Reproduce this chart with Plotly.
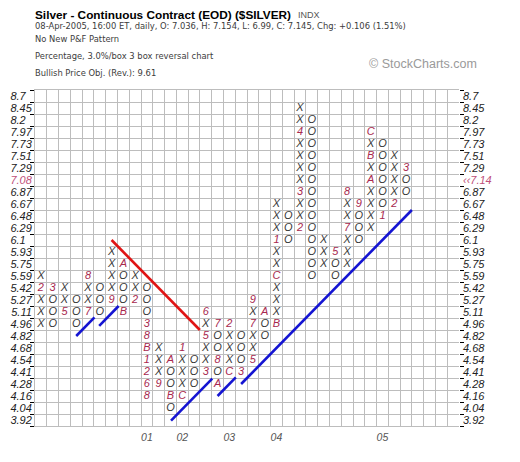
import plotly.graph_objects as go

# ---- data ----
prices = [3.92, 4.04, 4.16, 4.28, 4.41, 4.54, 4.68, 4.82, 4.96, 5.11, 5.27, 5.42,
          5.59, 5.75, 5.93, 6.1, 6.29, 6.48, 6.67, 6.87, 7.08, 7.29, 7.51, 7.73,
          7.97, 8.2, 8.45, 8.7]
price_labels = ["3.92", "4.04", "4.16", "4.28", "4.41", "4.54", "4.68", "4.82", "4.96",
                "5.11", "5.27", "5.42", "5.59", "5.75", "5.93", "6.1", "6.29", "6.48",
                "6.67", "6.87", "7.08", "7.29", "7.51", "7.73", "7.97", "8.2", "8.45", "8.7"]
last_price_label = "‹‹7.14"
last_price_level = 7.08

col_type = ["X", "O", "X", "O", "X", "O", "X", "O", "X", "O", "X", "O", "X", "O", "X", "O",
            "X", "O", "X", "O", "X", "O", "X", "O", "X", "O", "X", "O", "X", "O", "X", "O"]
col_low = [4.96, 4.96, 5.11, 4.96, 5.11, 5.11, 5.27, 5.11, 5.27, 4.16, 4.28, 4.04, 4.16, 4.28,
           4.41, 4.28, 4.41, 4.41, 4.54, 4.82, 4.96, 6.1, 6.29, 5.59, 5.75, 5.59, 5.75, 6.1,
           6.29, 6.48, 6.67, 6.87]
col_high = [5.59, 5.42, 5.42, 5.27, 5.59, 5.42, 5.93, 5.75, 5.59, 5.42, 4.68, 4.54, 4.68, 4.54,
            5.11, 4.96, 4.96, 4.82, 5.27, 5.11, 6.67, 6.48, 8.45, 8.2, 6.1, 5.93, 6.87, 6.67,
            7.97, 7.73, 7.51, 7.29]
# month markers: (column, price, label)
month_marks = [
    (0, 5.42, "2"), (1, 5.42, "3"), (2, 5.11, "5"), (4, 5.11, "7"), (4, 5.59, "8"),
    (6, 5.27, "9"), (7, 5.75, "A"), (7, 5.11, "B"), (8, 5.27, "2"),
    (9, 4.96, "3"), (9, 4.82, "8"), (9, 4.68, "B"), (9, 4.54, "1"), (9, 4.41, "2"),
    (9, 4.28, "6"), (9, 4.16, "8"), (10, 4.28, "9"), (11, 4.54, "A"), (11, 4.16, "B"),
    (12, 4.16, "C"), (12, 4.68, "1"), (14, 4.41, "3"), (14, 4.82, "5"), (14, 5.11, "6"),
    (15, 4.96, "7"), (15, 4.54, "8"), (15, 4.28, "A"), (16, 4.41, "C"), (16, 4.96, "2"),
    (17, 4.41, "3"), (18, 4.54, "5"), (18, 4.96, "7"), (18, 5.27, "9"), (19, 5.11, "A"),
    (20, 4.96, "B"), (20, 5.59, "C"), (20, 6.1, "1"), (22, 6.29, "2"), (22, 6.87, "3"),
    (22, 7.97, "4"), (25, 5.93, "5"), (26, 6.29, "7"), (26, 6.87, "8"), (27, 6.67, "9"),
    (28, 7.08, "A"), (28, 7.51, "B"), (28, 7.97, "C"), (29, 6.48, "1"), (30, 6.67, "2"),
    (31, 7.29, "3"),
]
year_cols = [9, 12, 16, 20, 29]
year_labels = ["01", "02", "03", "04", "05"]
n_columns = 36

# trend lines in (column, box index) units
red_lines = [((6, 15), (13.5, 7.5))]
blue_lines = [((3, 7), (4.55, 8.55)), ((4.95, 7.85), (6.6, 9.5)),
              ((11.05, -0.05), (14.55, 3.45)), ((15.0, 2.0), (16.55, 3.55)),
              ((17.0, 3.0), (31.5, 17.5))]

# ---- build cells ----
idx = {p: i for i, p in enumerate(prices)}
marks = {(c, idx[p]): t for c, p, t in month_marks}
xo_x, xo_y, xo_t = [], [], []
mk_x, mk_y, mk_t = [], [], []
for c, (t, lo, hi) in enumerate(zip(col_type, col_low, col_high)):
    for r in range(idx[lo], idx[hi] + 1):
        if (c, r) in marks:
            mk_x.append(c); mk_y.append(r); mk_t.append(marks[(c, r)])
        else:
            xo_x.append(c); xo_y.append(r); xo_t.append(t)

fig = go.Figure()
fig.add_trace(go.Scatter(x=xo_x, y=xo_y, text=xo_t, mode="text", hoverinfo="skip",
                         textfont=dict(family="Liberation Sans", size=11, color="#383838",
                                       style="italic")))
fig.add_trace(go.Scatter(x=mk_x, y=mk_y, text=mk_t, mode="text", hoverinfo="skip",
                         textfont=dict(family="Liberation Sans", size=11, color="#a8284e",
                                       style="italic")))
for lines, color in ((red_lines, "#e01414"), (blue_lines, "#1414d2")):
    for (x0, y0), (x1, y1) in lines:
        fig.add_trace(go.Scatter(x=[x0, x1], y=[y0, y1], mode="lines", yaxis="y2",
                                 line=dict(color=color, width=2.6), hoverinfo="skip"))

left_text = []
right_text = []
for p, lab in zip(prices, price_labels):
    pad = "\u00a0\u00a0" if len(lab) < 4 else ""   # keep left labels left-aligned
    if p == last_price_level:
        left_text.append("<span style='color:#c0507a'>" + lab + pad + "</span>")
        right_text.append("<span style='color:#c0507a'>" + last_price_label + "</span>")
    else:
        left_text.append(lab + pad)
        right_text.append(lab)

grid = "#bdbdbd"
tickfont = dict(family="Liberation Sans", size=11, color="#222222", style="italic")
yrange = [-0.5, len(prices) - 0.5]
common_y = dict(range=yrange, showgrid=False, zeroline=False, tickmode="array",
                tickvals=list(range(len(prices))), ticks="", tickfont=tickfont,
                automargin=False, fixedrange=True,
                minor=dict(tickmode="linear", tick0=0.5, dtick=1, ticks="outside",
                           ticklen=4, tickwidth=1.3, tickcolor="#000000",
                           showgrid=True, gridcolor=grid, gridwidth=1))

# the page body adds an 8px margin; the figure is sized/offset to compensate
fig.update_layout(
    width=512, height=454,
    margin=dict(l=27, r=61, t=82, b=36),
    paper_bgcolor="white", plot_bgcolor="white",
    showlegend=False,
    font=dict(family="Liberation Sans"),
    xaxis=dict(range=[-0.5, n_columns - 0.5], showgrid=False, zeroline=False,
               tickmode="array", tickvals=year_cols, ticktext=year_labels, ticks="",
               tickfont=dict(family="Liberation Sans", size=10.5, color="#555555",
                             style="italic"), ticklabelstandoff=1,
               showline=True, linecolor=grid, mirror=True, automargin=False,
               minor=dict(tickmode="linear", tick0=-0.5, dtick=1, showgrid=True,
                          gridcolor=grid, gridwidth=1, ticks="")),
    yaxis=dict(ticktext=left_text, side="left", ticklabelstandoff=0,
               showline=True, linecolor=grid, **common_y),
    yaxis2=dict(ticktext=right_text, side="right", overlaying="y", matches="y",
                ticklabelstandoff=3, showline=False, **common_y),
)

header = [
    ("<b>Silver - Continuous Contract (EOD) ($SILVER)</b>", 15, "Liberation Sans", 11.8, "#000000"),
    ("08-Apr-2005, 16:00 ET, daily, O: 7.036, H: 7.154, L: 6.99, C: 7.145, Chg: +0.106 (1.51%)",
     26, "DejaVu Sans", 8.4, "#3c3c3c"),
    ("No New P&F Pattern", 38.5, "DejaVu Sans", 8.4, "#3c3c3c"),
    ("Percentage, 3.0%/box 3 box reversal chart", 55.5, "DejaVu Sans", 8.4, "#3c3c3c"),
    ("Bullish Price Obj. (Rev.): 9.61", 72.5, "DejaVu Sans", 8.4, "#3c3c3c"),
]
plot_top, plot_h, plot_l, plot_w = 90, 336, 35, 424   # page pixels of the plot area
for text, py, fam, size, color in header:
    fig.add_annotation(text=text, xref="paper", yref="paper", x=-0.004,
                       y=(plot_top + plot_h - py) / plot_h, xanchor="left", yanchor="middle",
                       showarrow=False, font=dict(family=fam, size=size, color=color))
fig.add_annotation(text="INDX", xref="paper", yref="paper", x=(296 - plot_l) / plot_w,
                   y=(plot_top + plot_h - 15) / plot_h, xanchor="left", yanchor="middle",
                   showarrow=False, font=dict(family="Liberation Sans", size=9, color="#555555"))
fig.add_annotation(text="© StockCharts.com", xref="paper", yref="paper",
                   x=(423 - plot_l) / plot_w, y=(plot_top + plot_h - 64) / plot_h,
                   xanchor="center", yanchor="middle", showarrow=False,
                   font=dict(family="Liberation Sans", size=12.5, color="#9a9a9a"))

fig.write_html("out.html")
